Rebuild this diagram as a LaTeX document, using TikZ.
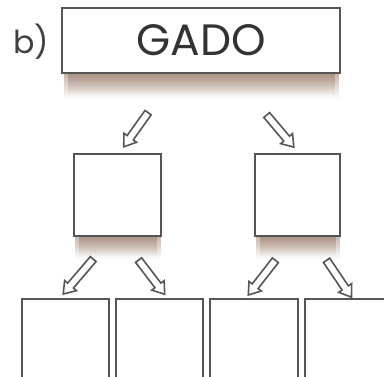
\documentclass[tikz,border=0pt]{standalone}
\usepackage{fontspec}
\setmainfont{Poppins}
\usetikzlibrary{shapes.arrows,fadings}
\definecolor{shadowbrown}{RGB}{145,112,92}
\definecolor{boxline}{RGB}{85,85,85}
\tikzfading[name=shadowfade, top color=transparent!10, middle color=transparent!35, bottom color=transparent!100]
\tikzset{
	card/.style={draw=boxline, line width=1.1pt, fill=white, inner sep=0pt},
	hollowarrow/.style={single arrow, draw=boxline, line width=0.9pt, fill=white,
		inner sep=0.6mm, minimum width=2.8mm, single arrow head extend=0.8mm,
		single arrow tip angle=70, minimum height=8.4mm},
	smudge/.style={fill=shadowbrown, path fading=shadowfade, fill opacity=0.6}
}

\begin{document}
\begin{tikzpicture}[x=0.02cm, y=-0.02cm]
		%%%%% START %%%%%
		\useasboundingbox (0, 0) rectangle (384, 376);
		\clip (0, 0) rectangle (384, 376);
		
		% shadows under the boxes
		\fill[smudge] (64, 72) rectangle (339, 99);
		\fill[smudge] (68, 72) rectangle (335, 95);
		\fill[smudge] (75, 235) rectangle (161, 259);
		\fill[smudge] (79, 235) rectangle (157, 256);
		\fill[smudge] (256, 235) rectangle (340, 259);
		\fill[smudge] (260, 235) rectangle (336, 256);
		
		% top box
		\node[card, minimum width=5.56cm, minimum height=1.3cm] (gado) at (201, 40.5) {\fontsize{25}{25}\selectfont\color{black!80}GADO};
		\node[text=black!75] (label) at (31, 42) {\fontsize{18}{18}\selectfont b)};
		
		% second row
		\node[card, minimum width=1.74cm, minimum height=1.64cm] (midl) at (117.5, 195) {};
		\node[card, minimum width=1.70cm, minimum height=1.64cm] (midr) at (297.5, 195) {};
		
		\node[hollowarrow, rotate=234.5] (al) at (137.5, 127.5) {};
		\node[hollowarrow, rotate=-49.8] (ar) at (278.5, 129) {};
		
		% third row
		\node[card, minimum width=1.74cm, minimum height=1.74cm] (b1) at (65.5, 342.5) {};
		\node[card, minimum width=1.74cm, minimum height=1.74cm] (b2) at (159.5, 342.5) {};
		\node[card, minimum width=1.76cm, minimum height=1.74cm] (b3) at (254, 342.5) {};
		\node[card, minimum width=1.74cm, minimum height=1.74cm] (b4) at (348.5, 342.5) {};
		
		\node[hollowarrow, minimum height=9.2mm, rotate=229.4] (a1) at (80, 274.5) {};
		\node[hollowarrow, minimum height=8.6mm, rotate=-52.6] (a2) at (150, 275) {};
		\node[hollowarrow, minimum height=8.8mm, rotate=232] (a3) at (263.5, 275.5) {};
		\node[hollowarrow, minimum height=8.9mm, rotate=-56] (a4) at (337.5, 276.5) {};
		
		%%%%% END %%%%%
	\end{tikzpicture}
\end{document}
